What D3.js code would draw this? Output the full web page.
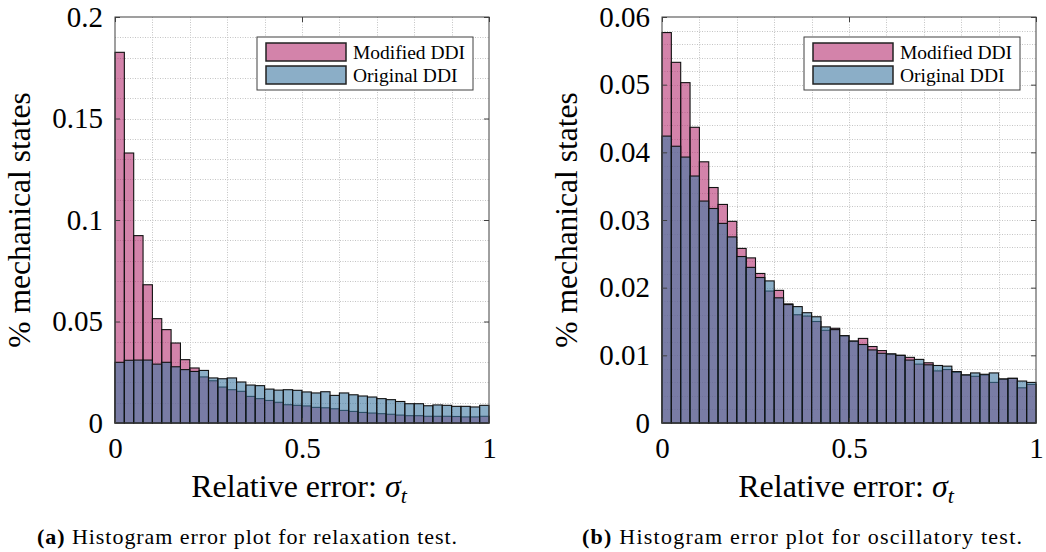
<!DOCTYPE html>
<html>
<head>
<meta charset="utf-8">
<script src="https://cdn.jsdelivr.net/npm/d3@7"></script>
<style>
  html, body { margin: 0; padding: 0; background: #fff; }
  svg { display: block; }
  text { font-family: "Liberation Serif", "Times New Roman", serif !important; fill: #000; }
</style>
</head>
<body>
<svg id="chart" width="1046" height="552"></svg>
<script>
// ---------------- data ----------------
const binWidth = 0.025;            // 40 bins on [0, 1]
const seriesNames = ["Modified DDI", "Original DDI"];

// (a) relaxation test
const relaxModified = [0.1826, 0.133, 0.0923, 0.0681, 0.0514, 0.046, 0.0394, 0.0312, 0.0271, 0.0227,
  0.0208, 0.0177, 0.0164, 0.0156, 0.0131, 0.012, 0.0111, 0.0102, 0.009, 0.0087,
  0.0084, 0.0077, 0.0075, 0.007, 0.0062, 0.0057, 0.0052, 0.0049, 0.0046, 0.0043,
  0.0039, 0.0036, 0.0036, 0.0033, 0.0033, 0.0033, 0.0032, 0.003, 0.003, 0.0033];
const relaxOriginal = [0.0299, 0.0309, 0.031, 0.031, 0.029, 0.0299, 0.0277, 0.0263, 0.0254, 0.0259,
  0.0222, 0.0218, 0.0222, 0.0202, 0.0187, 0.0184, 0.0167, 0.0162, 0.0164, 0.0161,
  0.0153, 0.0148, 0.0154, 0.0136, 0.0148, 0.0139, 0.0133, 0.0128, 0.012, 0.0115,
  0.0106, 0.0095, 0.0095, 0.0085, 0.0089, 0.0087, 0.0082, 0.0082, 0.0079, 0.0087];

// (b) oscillatory test
const oscModified = [0.0577, 0.0533, 0.0503, 0.0437, 0.0386, 0.0348, 0.0323, 0.0298, 0.0258, 0.0244,
  0.0221, 0.0195, 0.0196, 0.0176, 0.016, 0.0158, 0.015, 0.0137, 0.014, 0.0129,
  0.0121, 0.0125, 0.0113, 0.0107, 0.0102, 0.01, 0.0097, 0.0087, 0.0089, 0.0077,
  0.0079, 0.0075, 0.0071, 0.0069, 0.0071, 0.006, 0.0065, 0.0066, 0.0052, 0.0057];
const oscOriginal = [0.0424, 0.0409, 0.0393, 0.0365, 0.0328, 0.0317, 0.0295, 0.0275, 0.0246, 0.023,
  0.0215, 0.021, 0.0185, 0.0175, 0.0172, 0.0163, 0.0157, 0.0142, 0.0138, 0.0129,
  0.0121, 0.0116, 0.0108, 0.0103, 0.0102, 0.01, 0.0093, 0.0094, 0.0086, 0.0085,
  0.0084, 0.0076, 0.0071, 0.0074, 0.0072, 0.0074, 0.0065, 0.0066, 0.0062, 0.006];

const xTicks = [0, 0.5, 1];
const xTickLabels = ["0", "0.5", "1"];
const relaxYTicks = [0, 0.05, 0.1, 0.15, 0.2];
const relaxYTickLabels = ["0", "0.05", "0.1", "0.15", "0.2"];
const oscYTicks = [0, 0.01, 0.02, 0.03, 0.04, 0.05, 0.06];
const oscYTickLabels = ["0", "0.01", "0.02", "0.03", "0.04", "0.05", "0.06"];

const yLabel = "% mechanical states";
const captions = [
  {tag: "(a)", text: " Histogram error plot for relaxation test."},
  {tag: "(b)", text: " Histogram error plot for oscillatory test."}
];

// ---------------- style ----------------
const FONT = "font-family: 'Liberation Serif', 'Times New Roman', serif;";
const colModified = "rgb(182,48,113)";
const colOriginal = "rgb(62,120,162)";
const faceAlpha = 0.6;

const svg = d3.select("#chart");

function drawPanel(opt) {
  const {left, right, top, bottom, yMax, yTicks, yTickLabels, yMinorStep, mod, orig, caption, captionX, captionLen} = opt;
  const g = svg.append("g");
  const x = d3.scaleLinear().domain([0, 1]).range([left, right]);
  const y = d3.scaleLinear().domain([0, yMax]).range([bottom, top]);

  // grid (dotted), x every 0.1, y every yMinorStep
  const xGrid = d3.range(1, 10).map(i => i / 10);
  const yGrid = d3.range(1, Math.round(yMax / yMinorStep)).map(i => i * yMinorStep);
  g.append("g").selectAll("line").data(xGrid).join("line")
    .attr("x1", d => Math.round(x(d)) + 0.5).attr("x2", d => Math.round(x(d)) + 0.5).attr("y1", top).attr("y2", bottom)
    .attr("stroke", "#c4c4c4").attr("stroke-width", 1).attr("stroke-dasharray", "1,1.5");
  g.append("g").selectAll("line").data(yGrid).join("line")
    .attr("x1", left).attr("x2", right).attr("y1", d => Math.round(y(d)) + 0.5).attr("y2", d => Math.round(y(d)) + 0.5)
    .attr("stroke", "#c4c4c4").attr("stroke-width", 1).attr("stroke-dasharray", "1,1.5");

  // histograms: Modified first, Original drawn on top
  [[mod, colModified], [orig, colOriginal]].forEach(([vals, col]) => {
    g.append("g").selectAll("rect").data(vals).join("rect")
      .attr("x", (d, i) => x(i * binWidth))
      .attr("width", (d, i) => x((i + 1) * binWidth) - x(i * binWidth))
      .attr("y", d => y(d))
      .attr("height", d => y(0) - y(d))
      .attr("fill", col).attr("fill-opacity", faceAlpha)
      .attr("stroke", "#111").attr("stroke-width", 1.1);
  });

  // axes box
  g.append("rect").attr("x", left).attr("y", top).attr("width", right - left).attr("height", bottom - top)
    .attr("fill", "none").attr("stroke", "#404040").attr("stroke-width", 1);

  // axes with inward ticks on all four sides
  const tl = 5;
  const axB = d3.axisBottom(x).tickValues(xTicks).tickFormat((d, i) => xTickLabels[i]).tickSize(-tl).tickPadding(14);
  const axT = d3.axisTop(x).tickValues(xTicks).tickFormat("").tickSize(-tl);
  const axL = d3.axisLeft(y).tickValues(yTicks).tickFormat((d, i) => yTickLabels[i]).tickSize(-tl).tickPadding(12);
  const axR = d3.axisRight(y).tickValues(yTicks).tickFormat("").tickSize(-tl);
  [[axB, `translate(0,${bottom})`], [axT, `translate(0,${top})`], [axL, `translate(${left},0)`], [axR, `translate(${right},0)`]]
    .forEach(([ax, tr]) => {
      const a = g.append("g").attr("transform", tr).call(ax).attr("font-family", null);
      a.select(".domain").remove();
      a.selectAll(".tick line").attr("stroke", "#404040");
      a.selectAll(".tick text").attr("font-size", 29).attr("style", FONT).attr("fill", "#000");
    });

  // y label
  g.append("text")
    .attr("transform", `translate(${left - 85},${(top + bottom) / 2}) rotate(-90)`)
    .attr("text-anchor", "middle").attr("font-size", 31.5).attr("style", FONT).text(yLabel);

  // x label
  const xl = g.append("text").attr("x", (left + right) / 2 - 3).attr("y", 497)
    .attr("text-anchor", "middle").attr("font-size", 32).attr("style", FONT);
  xl.append("tspan").text("Relative error: ");
  xl.append("tspan").attr("font-style", "italic").text("σ");
  xl.append("tspan").attr("font-style", "italic").attr("font-size", 22).attr("dy", 6).text("t");

  // legend
  const lgL = right - 232, lgT = top + 20;
  const lg = g.append("g");
  lg.append("rect").attr("x", lgL).attr("y", lgT).attr("width", 216).attr("height", 53)
    .attr("fill", "#fff").attr("stroke", "#404040").attr("stroke-width", 1);
  seriesNames.forEach((name, i) => {
    lg.append("rect").attr("x", lgL + 9).attr("y", lgT + 6 + i * 23).attr("width", 80).attr("height", 18)
      .attr("fill", i === 0 ? colModified : colOriginal).attr("fill-opacity", faceAlpha)
      .attr("stroke", "#222").attr("stroke-width", 1.5);
    lg.append("text").attr("x", lgL + 96).attr("y", lgT + 22 + i * 23)
      .attr("font-size", 19.5).attr("style", FONT).text(name);
  });

  // caption
  const cap = g.append("text").attr("x", captionX).attr("y", 544).attr("text-anchor", "middle")
    .attr("font-size", 22).attr("style", FONT)
    .attr("textLength", captionLen).attr("lengthAdjust", "spacing");
  cap.append("tspan").attr("font-weight", "bold").text(caption.tag);
  cap.append("tspan").text(caption.text);
}

drawPanel({left: 115, right: 489, top: 17, bottom: 423, yMax: 0.2,
  yTicks: relaxYTicks, yTickLabels: relaxYTickLabels, yMinorStep: 0.01,
  mod: relaxModified, orig: relaxOriginal, caption: captions[0], captionX: 247, captionLen: 420});
drawPanel({left: 662, right: 1036, top: 17, bottom: 423, yMax: 0.06,
  yTicks: oscYTicks, yTickLabels: oscYTickLabels, yMinorStep: 0.002,
  mod: oscModified, orig: oscOriginal, caption: captions[1], captionX: 802, captionLen: 440});
</script>
</body>
</html>
